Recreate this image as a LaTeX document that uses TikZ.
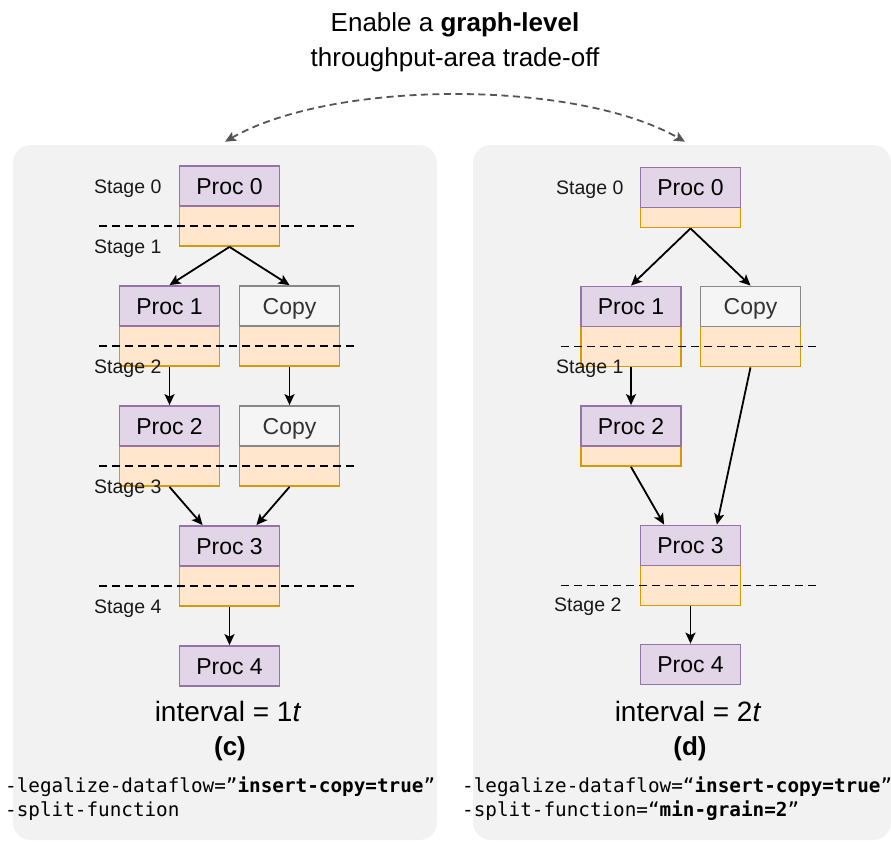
\documentclass[tikz,border=0pt]{standalone}
\usepackage{fontspec}
\setmainfont{Liberation Sans}
\setmonofont{DejaVu Sans Mono}
\usetikzlibrary{arrows.meta,calc}
\definecolor{purpleF}{HTML}{E1D5E7}
\definecolor{purpleD}{HTML}{9673A6}
\definecolor{orangeF}{HTML}{FFE6CC}
\definecolor{orangeD}{HTML}{D79B00}
\definecolor{copyF}{HTML}{F5F5F5}
\definecolor{copyD}{HTML}{888888}
\definecolor{copyT}{HTML}{333333}
\definecolor{panelF}{HTML}{F2F2F2}
\definecolor{arcC}{HTML}{555555}
\begin{document}
\begin{tikzpicture}[x=1pt,y=-1pt,
  procbox/.style={draw=purpleD, fill=purpleF, line width=1.8pt, minimum width=100pt, minimum height=40pt, inner sep=0pt, text height=16.5pt, text depth=0pt, font=\fontsize{23}{27}\selectfont},
  bufbox/.style={draw=orangeD, fill=orangeF, line width=1.8pt, minimum width=100pt, minimum height=40pt, inner sep=0pt},
  halfbuf/.style={bufbox, minimum height=20pt},
  copybox/.style={procbox, draw=copyD, fill=copyF, text=copyT},
  panel/.style={fill=panelF, draw=none, rounded corners=18pt},
  stagecut/.style={draw=black, line width=1.8pt, dash pattern=on 8pt off 5pt},
  stagelbl/.style={anchor=base west, inner sep=0pt, text=black!90, font=\fontsize{19.5}{23}\selectfont},
  flow/.style={draw=black, line width=1.8pt, -{Stealth[length=11pt,width=10pt,inset=2.5pt]}},
  tradearc/.style={draw=arcC, line width=1.8pt, dash pattern=on 7pt off 4.5pt, {Stealth[length=11pt,width=10pt,inset=2.5pt]}-{Stealth[length=11pt,width=10pt,inset=2.5pt]}},
  intervallbl/.style={anchor=base, inner sep=0pt, font=\fontsize{28}{32}\selectfont},
  capt/.style={anchor=base, inner sep=0pt, font=\fontsize{26}{30}\selectfont\bfseries},
  codeline/.style={anchor=base west, inner sep=0pt, font=\ttfamily\fontsize{19.3}{25}\selectfont}
]
\useasboundingbox (0,0) rectangle (891,841);
\fill[white] (0,0) rectangle (891,841);

% panels
\path[panel] (13,145) rectangle (437,840);
\path[panel] (473,145) rectangle (891,840);

% title
\node[anchor=base, inner sep=0pt, font=\fontsize{26}{30}\selectfont] (title1) at (455,31.7) {Enable a \textbf{graph-level}};
\node[anchor=base, inner sep=0pt, font=\fontsize{26}{30}\selectfont] (title2) at (455,66.7) {throughput-area trade-off};

% top arc
\coordinate (arcL) at (225,141.7);
\coordinate (arcR) at (685,141.7);
\draw[tradearc] (arcL) .. controls (334,79.4) and (576,79.4) .. (arcR);

% ---------- left panel (c) ----------
\node[bufbox] (L0b) at (229.5,226) {};
\node[bufbox] (L1b) at (169.5,346) {};
\node[bufbox] (LC1b) at (289.5,346) {};
\node[bufbox] (L2b) at (169.5,466) {};
\node[bufbox] (LC2b) at (289.5,466) {};
\node[bufbox] (L3b) at (229.5,586) {};
\node[procbox] (L0) at (229.5,186) {Proc 0};
\node[procbox] (L1) at (169.5,306) {Proc 1};
\node[copybox] (LC1) at (289.5,306) {Copy};
\node[procbox] (L2) at (169.5,426) {Proc 2};
\node[copybox] (LC2) at (289.5,426) {Copy};
\node[procbox] (L3) at (229.5,546) {Proc 3};
\node[procbox] (L4) at (229.5,666) {Proc 4};

\foreach \yy in {226,346,466,586} \draw[stagecut] (99,\yy) -- (358,\yy);

\draw[flow] (L0b.south) -- (L1.north);
\draw[flow] (L0b.south) -- (LC1.north);
\draw[flow] (L1b.south) -- (L2.north);
\draw[flow] (LC1b.south) -- (LC2.north);
\draw[flow] (L2b.south) -- ($(L3.north west)+(24,0)$);
\draw[flow] (LC2b.south) -- ($(L3.north east)+(-24,0)$);
\draw[flow] (L3b.south) -- (L4.north);

\node[stagelbl] (LS0) at (94,193.3) {Stage 0};
\node[stagelbl] (LS1) at (94,253.3) {Stage 1};
\node[stagelbl] (LS2) at (94,373.3) {Stage 2};
\node[stagelbl] (LS3) at (94,493.3) {Stage 3};
\node[stagelbl] (LS4) at (94,613.3) {Stage 4};

\node[intervallbl] (Lint) at (228,721.7) {interval = 1\textit{t}};
\node[capt] (Lcap) at (230,755) {(c)};
\node[codeline] (Lcode1) at (5,792) {-legalize-dataflow=”\textbf{insert-copy=true}”};
\node[codeline] (Lcode2) at (5,816.5) {-split-function};

% ---------- right panel (d) ----------
\node[halfbuf] (R0b) at (690.5,217.5) {};
\node[bufbox] (R1b) at (631,346.5) {};
\node[bufbox] (RC1b) at (750.5,346.5) {};
\node[halfbuf] (R2b) at (631,456) {};
\node[bufbox] (R3b) at (690.5,585.5) {};
\node[procbox] (R0) at (690.5,187.5) {Proc 0};
\node[procbox] (R1) at (631,306.5) {Proc 1};
\node[copybox] (RC1) at (750.5,306.5) {Copy};
\node[procbox] (R2) at (631,426) {Proc 2};
\node[procbox] (R3) at (690.5,545.5) {Proc 3};
\node[procbox] (R4) at (690.5,664.5) {Proc 4};

\draw[stagecut] (561,346.5) -- (818,346.5);
\draw[stagecut] (561,585.5) -- (818,585.5);

\draw[flow] (R0b.south) -- (R1.north);
\draw[flow] (R0b.south) -- (RC1.north);
\draw[flow] (R1b.south) -- (R2.north);
\draw[flow] (R2b.south) -- ($(R3.north west)+(24.5,0)$);
\draw[flow] (RC1b.south) -- ($(R3.north east)+(-24.5,0)$);
\draw[flow] (R3b.south) -- (R4.north);

\node[stagelbl] (RS0) at (556,194.3) {Stage 0};
\node[stagelbl] (RS1) at (556,373.3) {Stage 1};
\node[stagelbl] (RS2) at (554,611.7) {Stage 2};

\node[intervallbl] (Rint) at (688,721.7) {interval = 2\textit{t}};
\node[capt] (Rcap) at (690,755) {(d)};
\node[codeline] (Rcode1) at (462,792) {-legalize-dataflow=“\textbf{insert-copy=true}”};
\node[codeline] (Rcode2) at (462,816.5) {-split-function=“\textbf{min-grain=2}”};
\end{tikzpicture}
\end{document}
